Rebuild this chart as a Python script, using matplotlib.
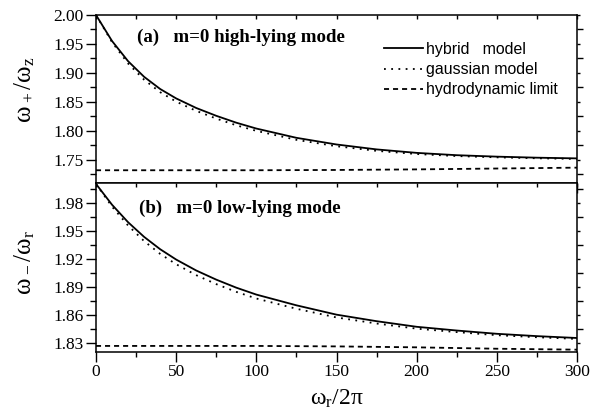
import matplotlib
matplotlib.use("Agg")
import matplotlib.pyplot as plt
from matplotlib.ticker import MultipleLocator, FormatStrFormatter

plt.rcParams['font.family'] = ['Liberation Serif', 'DejaVu Serif']
plt.rcParams['mathtext.fontset'] = 'custom'
plt.rcParams['mathtext.rm'] = 'Liberation Serif'
plt.rcParams['mathtext.default'] = 'regular'

# radial trap frequency omega_r / 2pi
x = [0, 10, 20, 30, 40, 50, 62.5, 75, 87.5, 100, 125, 150, 175, 200, 225, 250, 275, 300]

# (a) m=0 high-lying mode, omega_+/omega_z
hybrid_a = [2.000, 1.9551, 1.9203, 1.8933, 1.8723, 1.856, 1.8395, 1.826, 1.8141, 1.804,
            1.788, 1.7765, 1.768, 1.762, 1.758, 1.7555, 1.7537, 1.7525]
gauss_a = [2.000, 1.9531, 1.9163, 1.8883, 1.8668, 1.8505, 1.8345, 1.8212, 1.8096, 1.800,
           1.7845, 1.7735, 1.7655, 1.760, 1.7565, 1.7543, 1.7527, 1.7515]
hydro_x = [0, 50, 100, 150, 200, 250, 300]
hydro_a = [1.732, 1.732, 1.732, 1.7325, 1.7335, 1.735, 1.7365]

# (b) m=0 low-lying mode, omega_-/omega_r
hybrid_b = [2.000, 1.9777, 1.959, 1.9433, 1.9301, 1.919, 1.9073, 1.8975, 1.8889, 1.8815,
            1.870, 1.860, 1.853, 1.847, 1.843, 1.8395, 1.837, 1.835]
gauss_b = [2.000, 1.9757, 1.9555, 1.9388, 1.9251, 1.914, 1.9023, 1.8927, 1.8844, 1.8773,
           1.8663, 1.857, 1.8505, 1.845, 1.8413, 1.838, 1.8358, 1.834]
hydro_b = [1.8265, 1.8265, 1.8265, 1.826, 1.825, 1.8235, 1.8225]

fig = plt.figure(figsize=(5.92, 4.13), dpi=100)
L, R = 96 / 592, 577 / 592
top_a, mid, bot_b = 1 - 15 / 413, 1 - 183 / 413, 1 - 352 / 413
ax_a = fig.add_axes([L, mid, R - L, top_a - mid])
ax_b = fig.add_axes([L, bot_b, R - L, mid - bot_b])

lw = 1.3
for ax, hy, ga, hd in [(ax_a, hybrid_a, gauss_a, hydro_a), (ax_b, hybrid_b, gauss_b, hydro_b)]:
    ax.plot(x, hy, color='black', lw=lw, label='hybrid   model')
    ax.plot(x, ga, color='black', lw=lw, linestyle=(0, (1, 3)), label='gaussian model')
    ax.plot(hydro_x, hd, color='black', lw=lw, linestyle=(0, (2.8, 2.2)), label='hydrodynamic limit')
    ax.set_xlim(0, 300)
    ax.xaxis.set_major_locator(MultipleLocator(50))
    ax.xaxis.set_minor_locator(MultipleLocator(25))
    ax.tick_params(axis='both', which='both', labelsize=12.5, width=1, pad=2)
    ax.tick_params(axis='y', which='major', direction='out', length=7, right=True)
    ax.tick_params(axis='y', which='minor', direction='out', length=4, right=True)
    ax.tick_params(axis='x', which='major', direction='out', length=7, top=True)
    ax.tick_params(axis='x', which='minor', direction='out', length=3.5, top=True)
    for sp in ax.spines.values():
        sp.set_linewidth(1.1)

# top ticks point inward and are short, right ticks are short
for ax in (ax_a, ax_b):
    for t in ax.xaxis.get_major_ticks() + ax.xaxis.get_minor_ticks():
        t.tick2line.set_markersize(3)
        t.tick2line.set_marker(3)
    for t in ax.yaxis.get_major_ticks() + ax.yaxis.get_minor_ticks():
        t.tick2line.set_markersize(2.5)

ax_a.set_ylim(1.71, 2.00)
ax_a.yaxis.set_major_locator(MultipleLocator(0.05))
ax_a.yaxis.set_minor_locator(MultipleLocator(0.025))
ax_a.yaxis.set_major_formatter(FormatStrFormatter('%.2f'))
ax_a.tick_params(axis='x', labelbottom=False)

ax_b.set_ylim(1.82, 2.001)
ax_b.yaxis.set_major_locator(MultipleLocator(0.03))
ax_b.yaxis.set_minor_locator(MultipleLocator(0.015))
ax_b.yaxis.set_major_formatter(FormatStrFormatter('%.2f'))

ax_a.set_ylabel(r'$ω_+/ω_z$', fontsize=18)
ax_b.set_ylabel(r'$ω_-/ω_r$', fontsize=18)
ax_a.yaxis.set_label_coords(-0.122, 0.553)
ax_b.yaxis.set_label_coords(-0.122, 0.533)
ax_b.set_xlabel(r'$ω_r/2π$', fontsize=17, labelpad=5)

ax_a.text(25.4, 1.954, '(a)   m=0 high-lying mode', fontsize=13.6, fontweight='bold')
ax_b.text(27.0, 1.969, '(b)   m=0 low-lying mode', fontsize=13.6, fontweight='bold')

ax_a.legend(loc='upper left', bbox_to_anchor=(384 / 592, 1 - 42 / 413),
            bbox_transform=fig.transFigure, frameon=False, borderpad=0,
            borderaxespad=0, handlelength=2.45, handletextpad=0.2, labelspacing=0.32,
            prop={'family': 'Liberation Sans', 'size': 11.4})

fig.savefig('out.png', dpi=100)
